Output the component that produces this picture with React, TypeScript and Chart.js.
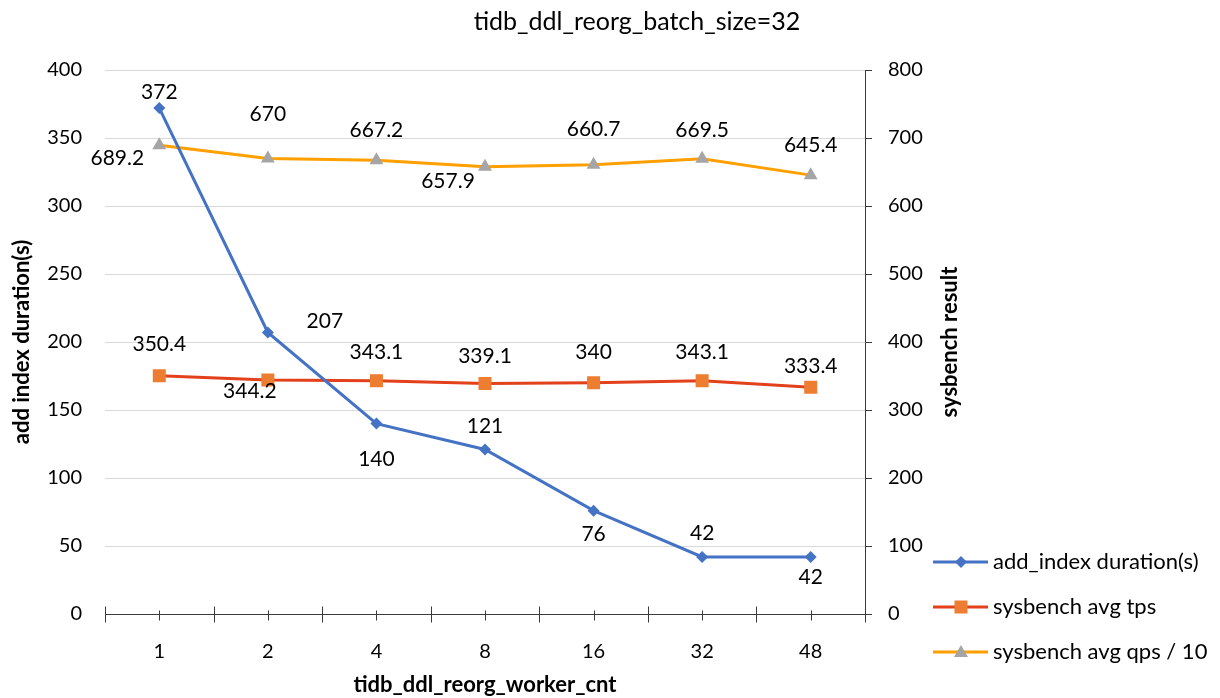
import React, { useEffect, useRef } from 'react';
import { Chart, registerables } from 'chart.js';

Chart.register(...registerables);

const CATEGORIES = ['1', '2', '4', '8', '16', '32', '48'];
const ADD_INDEX = [372, 207, 140, 121, 76, 42, 42];
const AVG_TPS = [350.4, 344.2, 343.1, 339.1, 340, 343.1, 333.4];
const AVG_QPS_10 = [689.2, 670, 667.2, 657.9, 660.7, 669.5, 645.4];
const SERIES_NAMES = ['add_index duration(s)', 'sysbench avg tps', 'sysbench avg qps / 10'];

const TITLE = 'tidb_ddl_reorg_batch_size=32';
const X_TITLE = 'tidb_ddl_reorg_worker_cnt';
const Y_TITLE = 'add index duration(s)';
const Y2_TITLE = 'sysbench result';

// label placement (pixel offsets from the point) — styling only
const LABEL_OFFSETS: number[][][] = [
  [[0, -16], [57, -11], [0, 36], [0, -23], [0, 24], [0, -24], [0, 20]],
  [[0, -31], [-18, 11], [0, -28], [0, -27], [0, -31], [0, -28], [0, -21]],
  [[-42, 13], [0, -44], [0, -30], [-37, 15], [0, -35], [0, -29], [0, -30]],
];

const FONT = 'Lato, "Open Sans", sans-serif';
const BLUE = '#4472C4';
const TPS_LINE = '#E2411B';
const TPS_MARK = '#ED7D31';
const QPS_LINE = '#FFA000';
const QPS_MARK = '#A5A5A5';

function drawMarker(ctx: CanvasRenderingContext2D, kind: string, x: number, y: number, color: string) {
  ctx.save();
  ctx.fillStyle = color;
  ctx.beginPath();
  if (kind === 'diamond') {
    const r = 6;
    ctx.moveTo(x, y - r);
    ctx.lineTo(x + r, y);
    ctx.lineTo(x, y + r);
    ctx.lineTo(x - r, y);
    ctx.closePath();
  } else if (kind === 'square') {
    ctx.rect(x - 6.5, y - 6.5, 13, 13);
  } else {
    ctx.moveTo(x, y - 7);
    ctx.lineTo(x + 7, y + 5);
    ctx.lineTo(x - 7, y + 5);
    ctx.closePath();
  }
  ctx.fill();
  ctx.restore();
}

const decorPlugin = {
  id: 'decor',
  afterDatasetsDraw(chart: any) {
    const ctx: CanvasRenderingContext2D = chart.ctx;
    ctx.save();
    ctx.font = `21px ${FONT}`;
    ctx.fillStyle = '#000';
    ctx.textAlign = 'center';
    ctx.textBaseline = 'middle';
    chart.data.datasets.forEach((ds: any, di: number) => {
      const meta = chart.getDatasetMeta(di);
      meta.data.forEach((pt: any, i: number) => {
        const off = LABEL_OFFSETS[di][i];
        ctx.fillText(String(ds.data[i]), pt.x + off[0], pt.y + off[1]);
      });
    });
    ctx.restore();
  },
  afterDraw(chart: any) {
    const ctx: CanvasRenderingContext2D = chart.ctx;
    const area = chart.chartArea;
    const xs = chart.scales.x;
    ctx.save();
    // x axis line and ticks
    ctx.strokeStyle = '#3a3a3a';
    ctx.lineWidth = 1;
    const yb = Math.round(area.bottom) + 0.5;
    ctx.beginPath();
    ctx.moveTo(area.left, yb);
    ctx.lineTo(area.right, yb);
    const n = CATEGORIES.length;
    const half = (xs.getPixelForValue(1) - xs.getPixelForValue(0)) / 2;
    for (let i = 0; i <= n; i++) {
      const bx = Math.round(i < n ? xs.getPixelForValue(i) - half : xs.getPixelForValue(n - 1) + half) + 0.5;
      ctx.moveTo(bx, yb - 8);
      ctx.lineTo(bx, yb + 8);
    }
    for (let i = 0; i < n; i++) {
      const cx = Math.round(xs.getPixelForValue(i)) + 0.5;
      ctx.moveTo(cx, yb - 4);
      ctx.lineTo(cx, yb + 6);
    }
    ctx.stroke();

    // title
    ctx.fillStyle = '#000';
    ctx.textAlign = 'center';
    ctx.textBaseline = 'middle';
    ctx.font = `25px ${FONT}`;
    ctx.fillText(TITLE, chart.width / 2 + 27, 22);

    // axis titles
    ctx.font = `bold 22px ${FONT}`;
    ctx.fillText(X_TITLE, (area.left + area.right) / 2, area.bottom + 71);
    const midY = (area.top + area.bottom) / 2;
    ctx.save();
    ctx.translate(22, midY);
    ctx.rotate(-Math.PI / 2);
    ctx.fillText(Y_TITLE, 0, 0);
    ctx.restore();
    ctx.save();
    ctx.translate(area.right + 85, midY);
    ctx.rotate(-Math.PI / 2);
    ctx.fillText(Y2_TITLE, 0, 0);
    ctx.restore();

    // legend
    const lineColors = [BLUE, TPS_LINE, QPS_LINE];
    const markColors = [BLUE, TPS_MARK, QPS_MARK];
    const kinds = ['diamond', 'square', 'triangle'];
    const lx0 = area.right + 68;
    ctx.font = `22px ${FONT}`;
    ctx.textAlign = 'left';
    SERIES_NAMES.forEach((name, i) => {
      const ly = 562 + i * 45;
      ctx.strokeStyle = lineColors[i];
      ctx.lineWidth = 3;
      ctx.beginPath();
      ctx.moveTo(lx0, ly);
      ctx.lineTo(lx0 + 55, ly);
      ctx.stroke();
      drawMarker(ctx, kinds[i], lx0 + 28, ly, markColors[i]);
      ctx.fillStyle = '#000';
      ctx.fillText(name, lx0 + 60, ly);
    });
    ctx.restore();
  },
};

export default function App() {
  const canvasRef = useRef<HTMLCanvasElement | null>(null);

  useEffect(() => {
    const canvas = canvasRef.current;
    if (!canvas) return;
    const chart = new Chart(canvas, {
      type: 'line',
      data: {
        labels: CATEGORIES,
        datasets: [
          {
            label: SERIES_NAMES[0],
            data: ADD_INDEX,
            yAxisID: 'y',
            borderColor: BLUE,
            backgroundColor: BLUE,
            borderWidth: 3,
            pointStyle: 'rectRot',
            pointRadius: 6,
            pointBorderWidth: 0,
            tension: 0,
          },
          {
            label: SERIES_NAMES[1],
            data: AVG_TPS,
            yAxisID: 'y2',
            borderColor: TPS_LINE,
            backgroundColor: TPS_MARK,
            borderWidth: 3,
            pointStyle: 'rect',
            pointRadius: 9.2,
            pointBorderWidth: 0,
            tension: 0,
          },
          {
            label: SERIES_NAMES[2],
            data: AVG_QPS_10,
            yAxisID: 'y2',
            borderColor: QPS_LINE,
            backgroundColor: QPS_MARK,
            borderWidth: 3,
            pointStyle: 'triangle',
            pointRadius: 8,
            pointBorderWidth: 0,
            tension: 0,
          },
        ],
      },
      options: {
        animation: false,
        responsive: true,
        maintainAspectRatio: false,
        layout: { padding: { top: 70, right: 245, left: 0, bottom: 0 } },
        plugins: {
          legend: { display: false },
          title: { display: false },
          tooltip: { enabled: false },
        },
        scales: {
          x: {
            type: 'category',
            offset: true,
            grid: { display: false, drawTicks: false },
            border: { display: false },
            ticks: { color: '#000', font: { family: FONT, size: 20 }, padding: 26 },
            afterFit: (s: any) => { s.height = 84; },
          },
          y: {
            position: 'left',
            min: 0,
            max: 400,
            ticks: { stepSize: 50, color: '#000', font: { family: FONT, size: 20 }, padding: 23 },
            grid: { color: '#d9d9d9', lineWidth: 1, drawTicks: false },
            border: { display: false },
            afterFit: (s: any) => { s.width = 105; },
          },
          y2: {
            position: 'right',
            min: 0,
            max: 800,
            ticks: { stepSize: 100, color: '#000', font: { family: FONT, size: 20 }, padding: 16 },
            grid: { drawOnChartArea: false, drawTicks: true, tickLength: 7, color: '#3a3a3a' },
            border: { display: true, color: '#3a3a3a', width: 1 },
            afterFit: (s: any) => { s.width = 110; },
          },
        },
      },
      plugins: [decorPlugin],
    });
    return () => chart.destroy();
  }, []);

  return (
    <div style={{ position: 'absolute', left: 0, top: 0, width: 1220, height: 698, background: '#fff' }}>
      <canvas ref={canvasRef} />
    </div>
  );
}
